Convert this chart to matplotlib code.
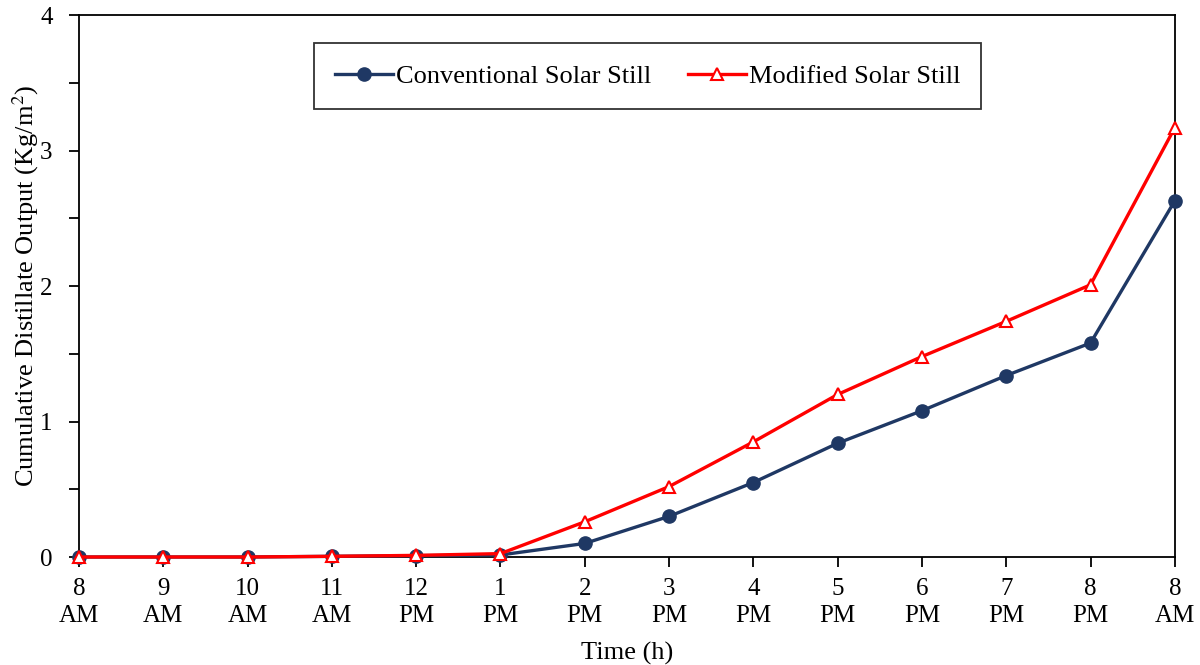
import numpy as np
import matplotlib.pyplot as plt
from matplotlib.ticker import MultipleLocator

# data
time_labels = ["8\nAM", "9\nAM", "10\nAM", "11\nAM", "12\nPM", "1\nPM", "2\nPM",
               "3\nPM", "4\nPM", "5\nPM", "6\nPM", "7\nPM", "8\nPM", "8\nAM"]
conventional = [0.0, 0.0, 0.0, 0.005, 0.01, 0.015, 0.10, 0.30, 0.55, 0.84, 1.08, 1.34, 1.58, 2.63]
modified = [0.0, 0.0, 0.0, 0.005, 0.012, 0.025, 0.26, 0.52, 0.85, 1.20, 1.48, 1.74, 2.01, 3.17]

plt.rcParams['font.family'] = ['Liberation Serif', 'DejaVu Serif']
plt.rcParams['mathtext.fontset'] = 'stix'

fig = plt.figure(figsize=(12, 6.65), dpi=100)
ax = fig.add_axes([0.0658, 0.1624, 0.9132, 0.8146])

x = np.arange(len(time_labels))
ax.plot(x, conventional, color='#1f3864', lw=2.4, marker='o', ms=9.5,
        label='Conventional Solar Still', zorder=3, clip_on=False)
ax.plot(x, modified, color='#ff0000', lw=2.4, marker='^', ms=9,
        markerfacecolor='white', markeredgecolor='#ff0000', markeredgewidth=1.5,
        label='Modified Solar Still', zorder=4, clip_on=False)

ax.set_xlim(0, len(time_labels) - 1)
ax.set_ylim(0, 4)
ax.set_xticks(x)
ax.set_xticklabels(time_labels, fontsize=18, linespacing=1.3)
ax.set_yticks([0, 1, 2, 3, 4])
ax.yaxis.set_minor_locator(MultipleLocator(0.5))
ax.tick_params(axis='y', labelsize=18, direction='out', length=7, width=1.3, pad=12)
ax.tick_params(axis='y', which='minor', direction='out', length=7, width=1.3)
ax.tick_params(axis='x', direction='out', length=7, width=1.3, pad=8)

for s in ax.spines.values():
    s.set_linewidth(1.3)

ax.set_xlabel('Time (h)', fontsize=19, labelpad=11)
ax.set_ylabel('Cumulative Distillate Output (Kg/m$^2$)', fontsize=19)
ax.yaxis.set_label_coords(-0.035, 0.5)

leg = ax.legend(loc='upper center', bbox_to_anchor=(0.519, 0.948), ncol=2,
                fontsize=19, frameon=True, fancybox=False, edgecolor='black',
                handlelength=2.2, handletextpad=0.1, columnspacing=1.4,
                borderpad=0.8, borderaxespad=0)
leg.get_frame().set_linewidth(1.3)

fig.savefig('out.png', dpi=100)
